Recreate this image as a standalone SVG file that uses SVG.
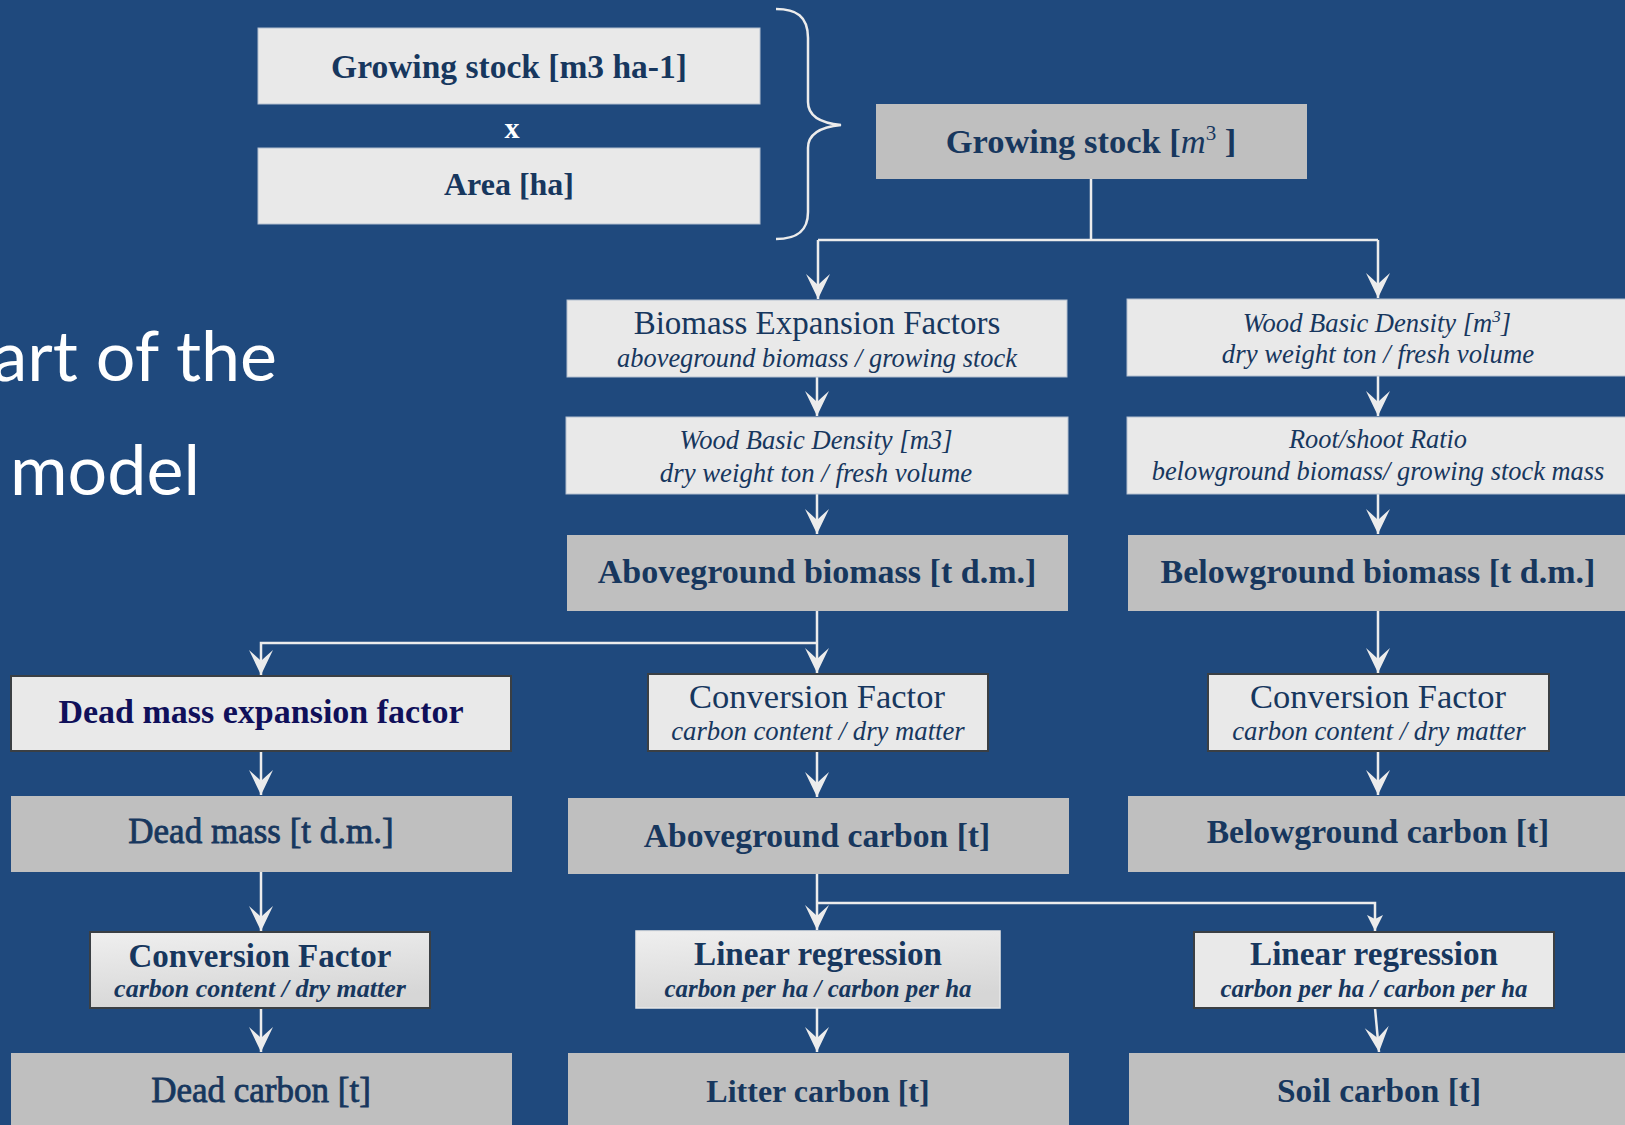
<svg xmlns="http://www.w3.org/2000/svg" width="1625" height="1125" viewBox="0 0 1625 1125">
<defs>
<style>
.bg{fill:#1F497D}
.lt{fill:#e9e9e9;stroke:#b4c0d0;stroke-width:1}
.ltd{fill:#e9e9e9;stroke:#3a3f44;stroke-width:2}
.gr{fill:#bfbfbf}
.t{font-family:"Liberation Serif","Times New Roman",serif;fill:#17375e;text-anchor:middle}
.b{font-weight:bold}
.i{font-style:italic}
.semi{stroke:#17375e;stroke-width:0.8}
.title{font-family:Lato,"Open Sans",sans-serif;fill:#ffffff;font-size:70px}
.con{fill:none;stroke:#ececec;stroke-width:2.5}
</style>
<linearGradient id="gfill" x1="0" y1="0" x2="0.3" y2="1">
<stop offset="0" stop-color="#efefef"/>
<stop offset="1" stop-color="#d6d6d6"/>
</linearGradient>
<marker id="ah" viewBox="-26 -13 27 26" refX="0" refY="0" markerWidth="27" markerHeight="26" markerUnits="userSpaceOnUse" orient="auto">
<path d="M0,0 L-25,-12 Q-17,-3 -14,0 Q-17,3 -25,12 Z" fill="#ececec"/>
</marker>
<marker id="ahs" viewBox="-17 -9 18 18" refX="0" refY="0" markerWidth="18" markerHeight="18" markerUnits="userSpaceOnUse" orient="auto">
<path d="M0,0 L-16,-8 L-12,0 L-16,8 Z" fill="#ececec"/>
</marker>
</defs>
<rect class="bg" x="0" y="0" width="1625" height="1125"/>

<g id="title">
<text class="title" x="277" y="381" text-anchor="end">art of the</text>
<text class="title" x="10" y="495">model</text>
</g>

<g id="connectors">
<path class="con" d="M776,9 C796,9 808,16 808,38 L808,102 C808,116 820,123 841,125 C820,127 808,134 808,148 L808,212 C808,232 796,239 776,239" stroke-width="2"/>
<path class="con" d="M1091,179 L1091,240"/>
<path class="con" d="M818,240 L1378,240"/>
<path class="con" d="M818,240 L818,299" marker-end="url(#ah)"/>
<path class="con" d="M1378,240 L1378,298" marker-end="url(#ah)"/>
<path class="con" d="M817,377 L817,416" marker-end="url(#ah)"/>
<path class="con" d="M817,494 L817,534" marker-end="url(#ah)"/>
<path class="con" d="M1378,376 L1378,416" marker-end="url(#ah)"/>
<path class="con" d="M1378,494 L1378,534" marker-end="url(#ah)"/>
<path class="con" d="M817,611 L817,673" marker-end="url(#ah)"/>
<path class="con" d="M817,643 L261,643 L261,675" marker-end="url(#ah)"/>
<path class="con" d="M1378,611 L1378,673" marker-end="url(#ah)"/>
<path class="con" d="M261,751 L261,795" marker-end="url(#ah)"/>
<path class="con" d="M817,751 L817,797" marker-end="url(#ah)"/>
<path class="con" d="M1378,751 L1378,795" marker-end="url(#ah)"/>
<path class="con" d="M261,872 L261,931" marker-end="url(#ah)"/>
<path class="con" d="M817,874 L817,930" marker-end="url(#ah)"/>
<path class="con" d="M817,903 L1375,903 L1375,931" marker-end="url(#ahs)"/>
<path class="con" d="M261,1008 L261,1052" marker-end="url(#ah)"/>
<path class="con" d="M817,1008 L817,1052" marker-end="url(#ah)"/>
<path class="con" d="M1375,1008 L1379,1052" marker-end="url(#ah)"/>
</g>

<g id="n-gs-ha">
<rect class="lt" x="258" y="28" width="502" height="76"/>
<text class="t b" x="509" y="78" font-size="33.5">Growing stock [m3 ha-1]</text>
</g>
<g id="n-times">
<text class="t b" x="512" y="138" font-size="30" style="fill:#ffffff">x</text>
</g>
<g id="n-area">
<rect class="lt" x="258" y="148" width="502" height="76"/>
<text class="t b" x="509" y="195" font-size="32">Area [ha]</text>
</g>
<g id="n-gs">
<rect class="gr" x="876" y="104" width="431" height="75"/>
<text class="t b" x="1091" y="153" font-size="34.5">Growing stock [<tspan class="i" font-weight="normal">m</tspan><tspan font-size="21" font-weight="normal" dy="-13">3</tspan><tspan dy="13"> ]</tspan></text>
</g>
<g id="n-bef">
<rect class="lt" x="567" y="300" width="500" height="77"/>
<text class="t" x="817" y="334" font-size="33">Biomass Expansion Factors</text>
<text class="t i" x="817" y="367" font-size="26.4">aboveground biomass / growing stock</text>
</g>
<g id="n-wbd-l">
<rect class="lt" x="566" y="417" width="502" height="77"/>
<text class="t i" x="816" y="449" font-size="26.6">Wood Basic Density [m3]</text>
<text class="t i" x="816" y="482" font-size="26.8">dry weight ton / fresh volume</text>
</g>
<g id="n-agb">
<rect class="gr" x="567" y="535" width="501" height="76"/>
<text class="t b" x="817" y="583" font-size="34">Aboveground biomass [t d.m.]</text>
</g>
<g id="n-wbd-r">
<rect class="lt" x="1127" y="299" width="501" height="77"/>
<text class="t i" x="1377" y="332" font-size="26.6">Wood Basic Density [m<tspan font-size="17" dy="-10">3</tspan><tspan dy="10">]</tspan></text>
<text class="t i" x="1378" y="363" font-size="26.8">dry weight ton / fresh volume</text>
</g>
<g id="n-rs">
<rect class="lt" x="1127" y="417" width="501" height="77"/>
<text class="t i" x="1378" y="448" font-size="26.4">Root/shoot Ratio</text>
<text class="t i" x="1378" y="480" font-size="26.4">belowground biomass/ growing stock mass</text>
</g>
<g id="n-bgb">
<rect class="gr" x="1128" y="535" width="500" height="76"/>
<text class="t b" x="1378" y="583" font-size="34">Belowground biomass [t d.m.]</text>
</g>
<g id="n-dmef">
<rect class="ltd" x="11" y="676" width="500" height="75"/>
<text class="t b" x="261" y="723" font-size="34" style="fill:#10105a">Dead mass expansion factor</text>
</g>
<g id="n-dm">
<rect class="gr" x="11" y="796" width="501" height="76"/>
<text class="t semi" x="261" y="843" font-size="35">Dead mass [t d.m.]</text>
</g>
<g id="n-cf-m">
<rect class="ltd" x="648" y="674" width="340" height="77"/>
<text class="t" x="817" y="708" font-size="34.5">Conversion Factor</text>
<text class="t i" x="818" y="740" font-size="26.7">carbon content / dry matter</text>
</g>
<g id="n-agc">
<rect class="gr" x="568" y="798" width="501" height="76"/>
<text class="t b" x="817" y="847" font-size="33.6">Aboveground carbon [t]</text>
</g>
<g id="n-cf-r">
<rect class="ltd" x="1208" y="674" width="341" height="77"/>
<text class="t" x="1378" y="708" font-size="34.5">Conversion Factor</text>
<text class="t i" x="1379" y="740" font-size="26.7">carbon content / dry matter</text>
</g>
<g id="n-bgc">
<rect class="gr" x="1128" y="796" width="500" height="76"/>
<text class="t b" x="1378" y="843" font-size="33.6">Belowground carbon [t]</text>
</g>
<g id="n-cf-d">
<rect x="90" y="932" width="340" height="76" fill="url(#gfill)" stroke="#3a3f44" stroke-width="2"/>
<text class="t b" x="260" y="967" font-size="33">Conversion Factor</text>
<text class="t b i" x="260" y="997" font-size="26">carbon content / dry matter</text>
</g>
<g id="n-dc">
<rect class="gr" x="11" y="1053" width="501" height="80"/>
<text class="t semi" x="261" y="1102" font-size="35">Dead carbon [t]</text>
</g>
<g id="n-lr-m">
<rect x="636" y="931" width="364" height="77" fill="url(#gfill)" stroke="#e8e8e8" stroke-width="1.5"/>
<text class="t b" x="818" y="965" font-size="33.2">Linear regression</text>
<text class="t b i" x="818" y="997" font-size="24.9">carbon per ha / carbon per ha</text>
</g>
<g id="n-litter">
<rect class="gr" x="568" y="1053" width="501" height="80"/>
<text class="t b" x="818" y="1102" font-size="32">Litter carbon [t]</text>
</g>
<g id="n-lr-r">
<rect class="ltd" x="1194" y="932" width="360" height="76"/>
<text class="t b" x="1374" y="965" font-size="33.2">Linear regression</text>
<text class="t b i" x="1374" y="997" font-size="24.9">carbon per ha / carbon per ha</text>
</g>
<g id="n-soil">
<rect class="gr" x="1129" y="1053" width="500" height="80"/>
<text class="t b" x="1379" y="1102" font-size="33.4">Soil carbon [t]</text>
</g>
</svg>
